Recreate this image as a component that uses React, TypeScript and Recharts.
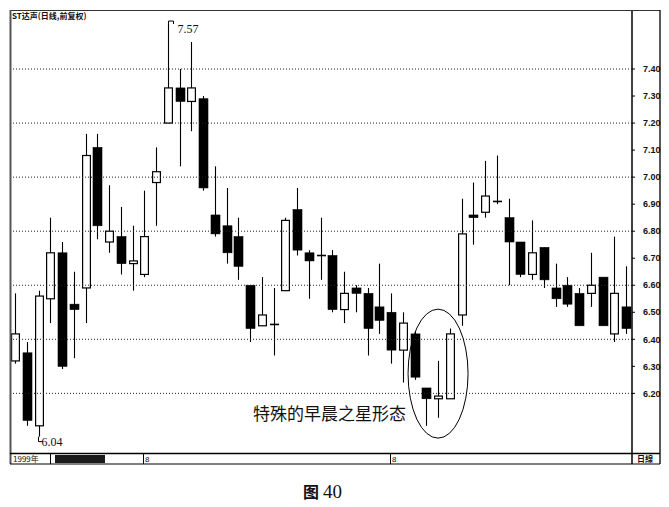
import React from 'react';
import { ComposedChart, Bar, XAxis, YAxis, ReferenceLine, ReferenceDot } from 'recharts';

// Daily OHLC prices, one entry per trading session
const opens = [
  6.32, 6.35, 6.08, 6.55, 6.72, 6.53, 6.59, 7.11, 6.76, 6.78,
  6.68, 6.64, 6.98, 7.20, 7.33, 7.28, 7.29, 6.86, 6.82, 6.78,
  6.60, 6.45, 6.455, 6.58, 6.88, 6.72, 6.71, 6.71, 6.51, 6.59,
  6.57, 6.52, 6.50, 6.36, 6.42, 6.22, 6.18, 6.18, 6.49, 6.86,
  6.87, 6.91, 6.85, 6.76, 6.64, 6.74, 6.59, 6.60, 6.57, 6.57,
  6.63, 6.42, 6.52,
];
const highs = [
  6.57, 6.39, 6.58, 6.85, 6.76, 6.65, 7.16, 7.16, 6.97, 6.89,
  6.82, 6.95, 7.11, 7.57, 7.40, 7.50, 7.30, 7.04, 6.96, 6.85,
  6.60, 6.63, 6.59, 6.85, 6.96, 6.73, 6.85, 6.73, 6.65, 6.60,
  6.59, 6.68, 6.57, 6.50, 6.43, 6.22, 6.32, 6.44, 6.92, 6.98,
  7.06, 7.08, 6.92, 6.76, 6.84, 6.74, 6.68, 6.63, 6.59, 6.72,
  6.63, 6.78, 6.67,
];
const lows = [
  6.31, 6.08, 6.04, 6.46, 6.29, 6.33, 6.46, 6.77, 6.72, 6.64,
  6.58, 6.63, 6.82, 7.20, 7.04, 7.17, 6.95, 6.78, 6.68, 6.62,
  6.39, 6.45, 6.34, 6.58, 6.71, 6.55, 6.62, 6.50, 6.46, 6.50,
  6.34, 6.42, 6.31, 6.24, 6.25, 6.08, 6.11, 6.18, 6.45, 6.75,
  6.85, 6.90, 6.60, 6.63, 6.62, 6.59, 6.52, 6.52, 6.45, 6.52,
  6.45, 6.39, 6.42,
];
const closes = [
  6.42, 6.10, 6.56, 6.72, 6.30, 6.51, 7.08, 6.82, 6.80, 6.68,
  6.69, 6.78, 7.02, 7.33, 7.28, 7.33, 6.96, 6.79, 6.72, 6.67,
  6.44, 6.49, 6.455, 6.84, 6.73, 6.69, 6.71, 6.51, 6.57, 6.57,
  6.44, 6.47, 6.36, 6.46, 6.26, 6.18, 6.19, 6.42, 6.79, 6.85,
  6.93, 6.91, 6.76, 6.64, 6.72, 6.62, 6.55, 6.53, 6.45, 6.60,
  6.45, 6.57, 6.44,
];

const sessions = opens.map((_, i) => `D${i + 1}`);

// Right-axis price labels and the dotted reference levels
const priceTicks = [6.2, 6.3, 6.4, 6.5, 6.6, 6.7, 6.8, 6.9, 7.0, 7.1, 7.2, 7.3, 7.4];
const gridLevels = [6.2, 6.4, 6.6, 6.8, 7.0, 7.2, 7.4];

const chartTitle = 'ST达声(日线,前复权)';
const patternNote = '特殊的早晨之星形态';
const yearLabel = '1999年';
const monthLabels = ['8', '8'];
const periodLabel = '日線';
const figureCaption = ['图', '40'];

const data = sessions.map((d, i) => ({
  d,
  o: opens[i],
  h: highs[i],
  l: lows[i],
  c: closes[i],
  range: [lows[i], highs[i]],
}));

const maxIdx = highs.indexOf(Math.max(...highs));
const minIdx = lows.indexOf(Math.min(...lows));

const Candle = (props: any) => {
  const { x, y, width, height, payload } = props;
  if (x == null || y == null) return null;
  const top = Math.min(y, y + height);
  const span = Math.abs(height);
  const { o, h, l, c } = payload;
  const toY = (v: number) => (h === l ? top : top + ((h - v) / (h - l)) * span);
  const cx = Math.round(x + width / 2) + 0.5;
  const bodyTop = toY(Math.max(o, c));
  const bodyBot = toY(Math.min(o, c));
  const up = c >= o;
  const bw = 9;
  const wick = (
    <line x1={cx} x2={cx} y1={top} y2={top + span} stroke="#000" strokeWidth={1.1} />
  );
  if (bodyBot - bodyTop < 1.5) {
    return (
      <g>
        {wick}
        <line x1={cx - bw / 2} x2={cx + bw / 2} y1={bodyTop} y2={bodyTop} stroke="#000" strokeWidth={1.6} />
      </g>
    );
  }
  return (
    <g>
      {wick}
      {up ? (
        <rect x={cx - bw / 2 + 0.6} y={bodyTop} width={bw - 1.2} height={bodyBot - bodyTop} fill="#fff" stroke="#000" strokeWidth={1.2} />
      ) : (
        <rect x={cx - bw / 2} y={bodyTop} width={bw} height={bodyBot - bodyTop} fill="#000" stroke="#000" strokeWidth={0.6} />
      )}
    </g>
  );
};

const HighMark = ({ cx, cy, text }: any) => {
  if (cx == null) return null;
  const x0 = Math.round(cx) + 0.5;
  return (
    <g>
      <polyline points={`${x0},${cy} ${x0},${cy - 2} ${x0 + 5},${cy - 2} ${x0 + 5},${cy + 1}`} fill="none" stroke="#000" strokeWidth={1} />
      <text x={x0 + 9} y={cy + 10} fontFamily="'Liberation Serif', serif" fontSize={12} fill="#111">{text}</text>
    </g>
  );
};

const LowMark = ({ cx, cy, text }: any) => {
  if (cx == null) return null;
  const x0 = Math.round(cx) + 0.5;
  return (
    <g>
      <polyline points={`${x0},${cy} ${x0},${cy + 5} ${x0 + 4},${cy + 5}`} fill="none" stroke="#000" strokeWidth={1} />
      <text x={x0 + 3} y={cy + 9} fontFamily="'Liberation Serif', serif" fontSize={12} fill="#111">{text}</text>
    </g>
  );
};

const PatternRing = ({ cx, cy }: any) => {
  if (cx == null) return null;
  return <ellipse cx={cx} cy={cy} rx={30} ry={64.5} fill="none" stroke="#000" strokeWidth={1} />;
};

export default function App() {
  return (
    <div style={{ position: 'absolute', left: 0, top: 0, width: 669, height: 507, background: '#fff' }}>
      <ComposedChart
        width={669}
        height={507}
        data={data}
        margin={{ top: 10, right: 9, left: 9, bottom: 54 }}
        barCategoryGap={2}
      >
        <XAxis dataKey="d" hide />
        <YAxis
          orientation="right"
          width={28}
          domain={[5.9794, 7.6183]}
          allowDataOverflow
          ticks={priceTicks}
          interval={0}
          tickFormatter={(v: number) => v.toFixed(2)}
          axisLine={{ stroke: '#000', strokeWidth: 1.5 }}
          tickLine={{ stroke: '#000' }}
          tickSize={3}
          tickMargin={8}
          tick={{ fontSize: 9, fill: '#111', fontFamily: "'Liberation Sans', Arial, sans-serif", fontWeight: 600 }}
        />
        {gridLevels.map((v) => (
          <ReferenceLine key={v} y={v} stroke="#222" strokeDasharray="1 2" strokeWidth={1} />
        ))}
        <Bar dataKey="range" shape={<Candle />} isAnimationActive={false} />
        <ReferenceDot
          x={sessions[maxIdx]}
          y={highs[maxIdx]}
          ifOverflow="visible"
          shape={(p: any) => <HighMark cx={p.cx} cy={p.cy} text={highs[maxIdx].toFixed(2)} />}
        />
        <ReferenceDot
          x={sessions[minIdx]}
          y={lows[minIdx]}
          ifOverflow="visible"
          shape={(p: any) => <LowMark cx={p.cx} cy={p.cy} text={lows[minIdx].toFixed(2)} />}
        />
        <ReferenceDot
          x={sessions[36]}
          y={6.273}
          ifOverflow="visible"
          shape={(p: any) => <PatternRing cx={p.cx} cy={p.cy} />}
        />
      </ComposedChart>
      <svg
        width={669}
        height={507}
        style={{ position: 'absolute', left: 0, top: 0, pointerEvents: 'none' }}
      >
        {/* chart frame */}
        <line x1={10} x2={660} y1={10.5} y2={10.5} stroke="#333" strokeWidth={1.2} />
        <line x1={10.5} x2={10.5} y1={10} y2={464} stroke="#555" strokeWidth={2} />
        <line x1={660} x2={660} y1={10} y2={464} stroke="#000" strokeWidth={1.3} />
        <line x1={10} x2={660} y1={453.5} y2={453.5} stroke="#000" strokeWidth={1.3} />
        <line x1={10} x2={660} y1={464} y2={464} stroke="#000" strokeWidth={1.2} />
        <text x={12} y={19} fontSize={8} fontWeight={700} fill="#111" fontFamily="'Noto Sans CJK SC', sans-serif">
          {chartTitle}
        </text>
        {/* date strip */}
        <line x1={50.5} x2={50.5} y1={454} y2={464} stroke="#000" />
        <text x={13} y={462} fontSize={8} fill="#111" fontFamily="'Noto Sans CJK SC', sans-serif">{yearLabel}</text>
        <rect x={55} y={455} width={50} height={8} fill="#1a1a1a" />
        <line x1={143.5} x2={143.5} y1={454} y2={464} stroke="#000" />
        <text x={145} y={462} fontSize={8} fill="#111" fontFamily="'Liberation Sans', sans-serif">{monthLabels[0]}</text>
        <line x1={390.5} x2={390.5} y1={454} y2={464} stroke="#000" />
        <text x={392} y={462} fontSize={8} fill="#111" fontFamily="'Liberation Sans', sans-serif">{monthLabels[1]}</text>
        <line x1={632} x2={632} y1={453} y2={464} stroke="#000" strokeWidth={1.5} />
        <text x={637} y={462} fontSize={8} fontWeight={700} fill="#111" fontFamily="'Noto Sans CJK SC', sans-serif">{periodLabel}</text>
        {/* pattern note */}
        <text x={253} y={420} fontSize={17} fill="#111" fontFamily="'Noto Sans CJK SC', sans-serif">{patternNote}</text>
        {/* figure caption */}
        <text x={303} y={498} fontSize={16} fontWeight={700} fill="#111" fontFamily="'Noto Sans CJK SC', sans-serif">{figureCaption[0]}</text>
        <text x={323} y={498} fontSize={19} fill="#111" fontFamily="'Liberation Serif', serif">{figureCaption[1]}</text>
      </svg>
    </div>
  );
}
